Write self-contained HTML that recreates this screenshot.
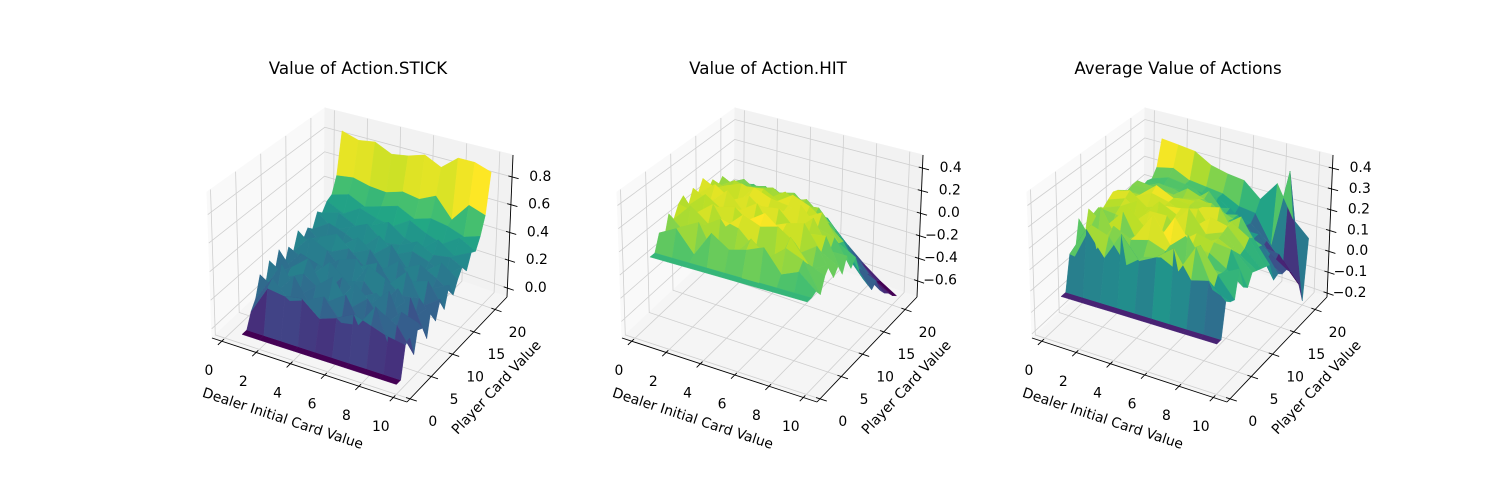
<!DOCTYPE html>
<html><head><meta charset="utf-8"><style>
html,body{margin:0;padding:0;background:#fff;}
svg{display:block;font-family:"DejaVu Sans","Liberation Sans",sans-serif;}
</style></head><body>
<svg id="fig" width="1500" height="500" viewBox="0 0 1500 500" xmlns="http://www.w3.org/2000/svg"></svg>
<script>
// ---- data ----
const dealerValues = [1,2,3,4,5,6,7,8,9,10];
const playerValues = [0,1,2,3,4,5,6,7,8,9,10,11,12,13,14,15,16,17,18,19,20,21];
const xTicks = [0,2,4,6,8,10];
const yTicks = [0,5,10,15,20];
const titles = ["Value of Action.STICK","Value of Action.HIT","Average Value of Actions"];
const zTicks0 = ["0.0","0.2","0.4","0.6","0.8"];
const zTicks1 = ["0.4","0.2","0.0","−0.2","−0.4","−0.6"];
const zTicks2 = ["0.4","0.3","0.2","0.1","0.0","−0.1","−0.2"];
const stickValues = [
[0,0,0,0,0,0,0,0,0,0],
[0,0,0,0,0,0,0,0,0,0],
[0.10,0.30,0.28,0.30,0.20,0.24,0.30,0.26,0.22,0.20],
[0.16,0.34,0.22,0.26,0.32,0.18,0.20,0.36,0.06,0.22],
[0.30,0.22,0.36,0.18,0.26,0.34,0.14,0.30,0.24,0.08],
[0.18,0.38,0.20,0.30,0.40,0.22,0.32,0.18,0.30,0.26],
[0.34,0.26,0.32,0.24,0.20,0.36,0.26,0.38,0.12,0.20],
[0.22,0.30,0.40,0.20,0.34,0.24,0.30,0.22,0.34,0.10],
[0.36,0.20,0.26,0.38,0.28,0.32,0.20,0.34,0.18,0.30],
[0.20,0.34,0.30,0.26,0.22,0.40,0.34,0.26,0.28,0.16],
[0.32,0.26,0.24,0.34,0.38,0.24,0.28,0.40,0.20,0.28],
[0.26,0.40,0.34,0.22,0.30,0.36,0.22,0.30,0.34,0.18],
[0.38,0.28,0.30,0.36,0.26,0.28,0.38,0.24,0.26,0.32],
[0.28,0.34,0.40,0.30,0.36,0.22,0.30,0.36,0.30,0.22],
[0.34,0.24,0.28,0.38,0.30,0.40,0.26,0.28,0.38,0.30],
[0.30,0.38,0.34,0.28,0.40,0.30,0.36,0.32,0.26,0.36],
[0.40,0.30,0.36,0.42,0.32,0.34,0.40,0.34,0.36,0.30],
[0.36,0.40,0.34,0.38,0.44,0.36,0.32,0.42,0.34,0.40],
[0.42,0.36,0.44,0.40,0.38,0.46,0.40,0.36,0.44,0.38],
[0.44,0.48,0.42,0.46,0.50,0.44,0.48,0.46,0.42,0.46],
[0.56,0.58,0.55,0.54,0.58,0.56,0.62,0.48,0.62,0.58],
[0.88,0.84,0.86,0.80,0.82,0.86,0.80,0.90,0.90,0.86]];
const hitValues = [
[0,0,0,0,0,0,0,0,0,0],
[0,0,0,0,0,0,0,0,0,0],
[0.14,0.22,0.04,0.26,0.16,0.20,0.26,0.08,0.14,0.02],
[0.06,0.20,0.28,0.00,0.08,0.26,0.14,0.26,0.20,-0.04],
[0.24,0.10,0.22,0.32,0.28,0.14,-0.02,0.32,0.14,0.08],
[0.16,0.32,0.20,0.22,0.36,0.30,0.34,0.24,0.06,0.14],
[0.26,0.22,0.34,0.12,0.28,0.38,0.26,0.12,0.22,0.00],
[0.30,0.10,0.28,0.32,0.20,0.24,0.30,0.34,0.14,0.06],
[0.18,0.32,0.22,0.26,0.36,0.14,0.26,0.22,0.24,-0.04],
[0.30,0.22,0.36,0.20,0.30,0.32,0.18,0.32,0.08,0.08],
[0.22,0.34,0.24,0.32,0.20,0.26,0.36,0.20,0.16,-0.06],
[0.32,0.24,0.18,0.36,0.30,0.28,0.22,0.30,0.08,0.00],
[0.18,0.26,0.32,0.22,0.24,0.34,0.28,0.18,0.06,-0.16],
[0.24,0.18,0.26,0.28,0.20,0.24,0.16,0.14,-0.10,-0.26],
[0.14,0.24,0.20,0.16,0.26,0.18,0.20,0.04,-0.18,-0.34],
[0.20,0.12,0.18,0.22,0.14,0.20,0.08,-0.04,-0.26,-0.42],
[0.10,0.18,0.08,0.14,0.18,0.06,0.04,-0.12,-0.32,-0.38],
[0.04,0.08,0.12,0.02,0.10,0.00,-0.06,-0.20,-0.40,-0.50],
[0.00,0.06,-0.02,0.06,-0.04,-0.08,-0.14,-0.28,-0.44,-0.56],
[-0.04,-0.02,0.02,-0.06,-0.10,-0.16,-0.24,-0.36,-0.52,-0.60],
[-0.08,-0.06,-0.10,-0.12,-0.18,-0.24,-0.32,-0.46,-0.58,-0.66],
[-0.14,-0.12,-0.16,-0.20,-0.26,-0.32,-0.40,-0.52,-0.62,-0.70]];
const avgValues = [
[0,0,0,0,0,0,0,0,0,0],
[0,0,0,0,0,0,0,0,0,0],
[0.16,0.30,0.19,0.32,0.22,0.26,0.32,0.20,0.22,0.15],
[0.13,0.30,0.27,0.16,0.22,0.24,0.20,0.33,0.16,0.13],
[0.29,0.17,0.30,0.26,0.28,0.25,0.08,0.32,0.21,0.12],
[0.17,0.35,0.20,0.26,0.38,0.26,0.33,0.21,0.20,0.24],
[0.30,0.24,0.33,0.18,0.24,0.37,0.26,0.25,0.20,0.14],
[0.26,0.20,0.34,0.26,0.27,0.24,0.30,0.28,0.27,0.12],
[0.27,0.26,0.24,0.32,0.32,0.23,0.23,0.28,0.24,0.17],
[0.25,0.28,0.33,0.23,0.26,0.36,0.26,0.29,0.21,0.16],
[0.27,0.30,0.24,0.33,0.29,0.25,0.32,0.30,0.22,0.15],
[0.29,0.32,0.26,0.29,0.30,0.32,0.22,0.30,0.25,0.14],
[0.28,0.27,0.31,0.29,0.25,0.31,0.33,0.21,0.23,0.13],
[0.26,0.26,0.33,0.29,0.28,0.23,0.23,0.29,0.17,0.04],
[0.24,0.24,0.24,0.27,0.28,0.29,0.23,0.19,0.16,0.05],
[0.25,0.25,0.26,0.25,0.27,0.25,0.22,0.17,0.07,0.03],
[0.25,0.24,0.22,0.28,0.25,0.20,0.22,0.13,0.08,0.03],
[0.20,0.24,0.23,0.20,0.27,0.18,0.13,0.13,0.02,0.00],
[0.21,0.21,0.21,0.23,0.17,0.19,0.13,0.05,0.04,-0.05],
[0.20,0.23,0.22,0.20,0.20,0.14,0.12,0.06,-0.02,-0.10],
[0.24,0.26,0.22,0.21,0.20,0.16,0.15,0.02,0.40,-0.20],
[0.37,0.36,0.35,0.30,0.28,0.27,0.20,0.30,0.15,0.08]];

const NS = "http://www.w3.org/2000/svg";
const svg = document.getElementById('fig');
function mk(tag, attrs, parent){
  const e = document.createElementNS(NS, tag);
  for (const k in attrs) e.setAttribute(k, attrs[k]);
  (parent||svg).appendChild(e); return e;
}
const VIR = ["#440154","#482475","#414487","#355f8d","#2a788e","#21918c","#22a884","#44bf70","#7ad151","#bddf26","#fde725"];
function hex(h){return [parseInt(h.substr(1,2),16),parseInt(h.substr(3,2),16),parseInt(h.substr(5,2),16)];}
function viridis(t){
  t=Math.max(0,Math.min(1,t)); const p=t*10, i=Math.min(9,Math.floor(p)), f=p-i;
  const a=hex(VIR[i]), b=hex(VIR[i+1]);
  return `rgb(${Math.round(a[0]+(b[0]-a[0])*f)},${Math.round(a[1]+(b[1]-a[1])*f)},${Math.round(a[2]+(b[2]-a[2])*f)})`;
}
const CB = {A:[212,338],B:[407,402],C:[507,297],D:[324,233]};
const CT = {A:[207,192],B:[409,244],C:[513,155],D:[325,108]};
function lerp(a,b,t){return [a[0]+(b[0]-a[0])*t,a[1]+(b[1]-a[1])*t];}
function P(u,v,w,dx){
  const bf=lerp(CB.A,CB.B,u), bb=lerp(CB.D,CB.C,u), bot=lerp(bf,bb,v);
  const tf=lerp(CT.A,CT.B,u), tb=lerp(CT.D,CT.C,u), top=lerp(tf,tb,v);
  const p=lerp(bot,top,w); return [p[0]+dx,p[1]];
}
const XLIM=[-0.57,10.8], YLIM=[-0.7,22.8];
const panels = [
  {vals:stickValues, zlim:[-0.0645,0.958], ticks:zTicks0},
  {vals:hitValues, zlim:[-0.742,0.516], ticks:zTicks1},
  {vals:avgValues, zlim:[-0.219,0.463], ticks:zTicks2}
];
function parseNum(s){return parseFloat(s.replace('−','-'));}
const dir=[0.433,-0.75,0.5];
panels.forEach((pn,pi)=>{
  const dx=pi*410;
  const g=mk('g',{});
  
  
  const U=x=>(x-XLIM[0])/(XLIM[1]-XLIM[0]);
  const V=y=>(y-YLIM[0])/(YLIM[1]-YLIM[0]);
  const W=z=>(z-pn.zlim[0])/(pn.zlim[1]-pn.zlim[0]);
  const pt=(u,v,w)=>P(u,v,w,dx).map(n=>n.toFixed(1)).join(',');
  const left=mk('polygon',{points:[pt(0,0,0),pt(0,1,0),pt(0,1,1),pt(0,0,1)].join(' '),fill:'rgb(249,249,249)',stroke:'rgb(249,249,249)'},g);
   
  const back=mk('polygon',{points:[pt(0,1,0),pt(1,1,0),pt(1,1,1),pt(0,1,1)].join(' '),fill:'rgb(242,242,242)',stroke:'rgb(242,242,242)'},g);
   
  const floor=mk('polygon',{points:[pt(0,0,0),pt(1,0,0),pt(1,1,0),pt(0,1,0)].join(' '),fill:'rgb(245,245,245)',stroke:'rgb(245,245,245)'},g);
   
  const gg=mk('g',{stroke:'#cfcfcf','stroke-width':0.8,fill:'none'},g);
   
  xTicks.forEach(t=>{const u=U(t);
    mk('polyline',{points:[pt(u,0,0),pt(u,1,0),pt(u,1,1)].join(' ')},gg);});
  yTicks.forEach(t=>{const v=V(t);
    mk('polyline',{points:[pt(1,v,0),pt(0,v,0),pt(0,v,1)].join(' ')},gg);});
  pn.ticks.forEach(s=>{const w=W(parseNum(s));
    mk('polyline',{points:[pt(0,0,w),pt(0,1,w),pt(1,1,w)].join(' ')},gg);});
  const vals=pn.vals, faces=[];
  for(let j=0;j<playerValues.length-1;j++)for(let i=0;i<dealerValues.length-1;i++){
    const c=[[i,j],[i+1,j],[i+1,j+1],[i,j+1]];
    let zs=0,du=0,dv=0,dw=0;
    const pts=c.map(([a,b])=>{const z=vals[b][a];zs+=z;const u=U(dealerValues[a]),v=V(playerValues[b]),w=W(z);du+=u;dv+=v;dw+=w;return pt(u,v,w);});
    faces.push({pts,avg:zs/4,depth:(du/4-0.5)*dir[0]+(dv/4-0.5)*dir[1]+(dw/4-0.5)*0.75*dir[2]});
  }
  let mn=Infinity,mx=-Infinity; faces.forEach(f=>{mn=Math.min(mn,f.avg);mx=Math.max(mx,f.avg);});
  faces.sort((a,b)=>a.depth-b.depth);
  const sg=mk('g',{},g);
   
  faces.forEach(f=>{const col=viridis((f.avg-mn)/(mx-mn));
    const p=mk('polygon',{points:f.pts.join(' '),fill:col,stroke:col,'stroke-width':0.4,'stroke-linejoin':'round'},sg);
     });
  const ax=mk('g',{stroke:'#000','stroke-width':0.9,fill:'none'},g);
   
  mk('line',{x1:P(0,0,0,dx)[0],y1:P(0,0,0,dx)[1],x2:P(1,0,0,dx)[0],y2:P(1,0,0,dx)[1]},ax);
  mk('line',{x1:P(1,0,0,dx)[0],y1:P(1,0,0,dx)[1],x2:P(1,1,0,dx)[0],y2:P(1,1,0,dx)[1]},ax);
  mk('line',{x1:P(1,1,0,dx)[0],y1:P(1,1,0,dx)[1],x2:P(1,1,1,dx)[0],y2:P(1,1,1,dx)[1]},ax);
  const tg=mk('g',{'font-size':'13.9px',fill:'#000','text-anchor':'middle'},g);
   
  xTicks.forEach(t=>{const u=U(t);const a=P(u,0.02,0,dx),b=P(u,-0.035,0,dx);
    mk('line',{x1:a[0],y1:a[1],x2:b[0],y2:b[1]},ax);
    const l=mk('text',{x:(b[0]-9).toFixed(1),y:(b[1]+30).toFixed(1)},tg); l.textContent=t;
     });
  yTicks.forEach(t=>{const v=V(t);const a=P(0.98,v,0,dx),b=P(1.035,v,0,dx);
    mk('line',{x1:a[0],y1:a[1],x2:b[0],y2:b[1]},ax);
    const l=mk('text',{x:(b[0]+16).toFixed(1),y:(b[1]+25).toFixed(1)},tg); l.textContent=t;
     });
  pn.ticks.forEach(s=>{const w=W(parseNum(s));const a=P(0.98,1,w,dx),b=P(1.035,1,w,dx);
    mk('line',{x1:a[0],y1:a[1],x2:b[0],y2:b[1]},ax);
    const l=mk('text',{x:(a[0]+43).toFixed(1),y:(a[1]+5).toFixed(1),'text-anchor':'end'},tg); l.textContent=s;
     });
  const xl=mk('text',{x:283+dx,y:423,'font-size':'13.9px','text-anchor':'middle',transform:`rotate(18.2 ${283+dx} 418)`},g);
  xl.textContent='Dealer Initial Card Value';
   
  const yl=mk('text',{x:496+dx,y:392,'font-size':'13.9px','text-anchor':'middle',transform:`rotate(-46.7 ${496+dx} 387)`},g);
  yl.textContent='Player Card Value';
   
  const ti=mk('text',{x:358+dx,y:74,'font-size':'16.7px','text-anchor':'middle'},g);
  ti.textContent=titles[pi];
   
});
</script>
</body></html>
